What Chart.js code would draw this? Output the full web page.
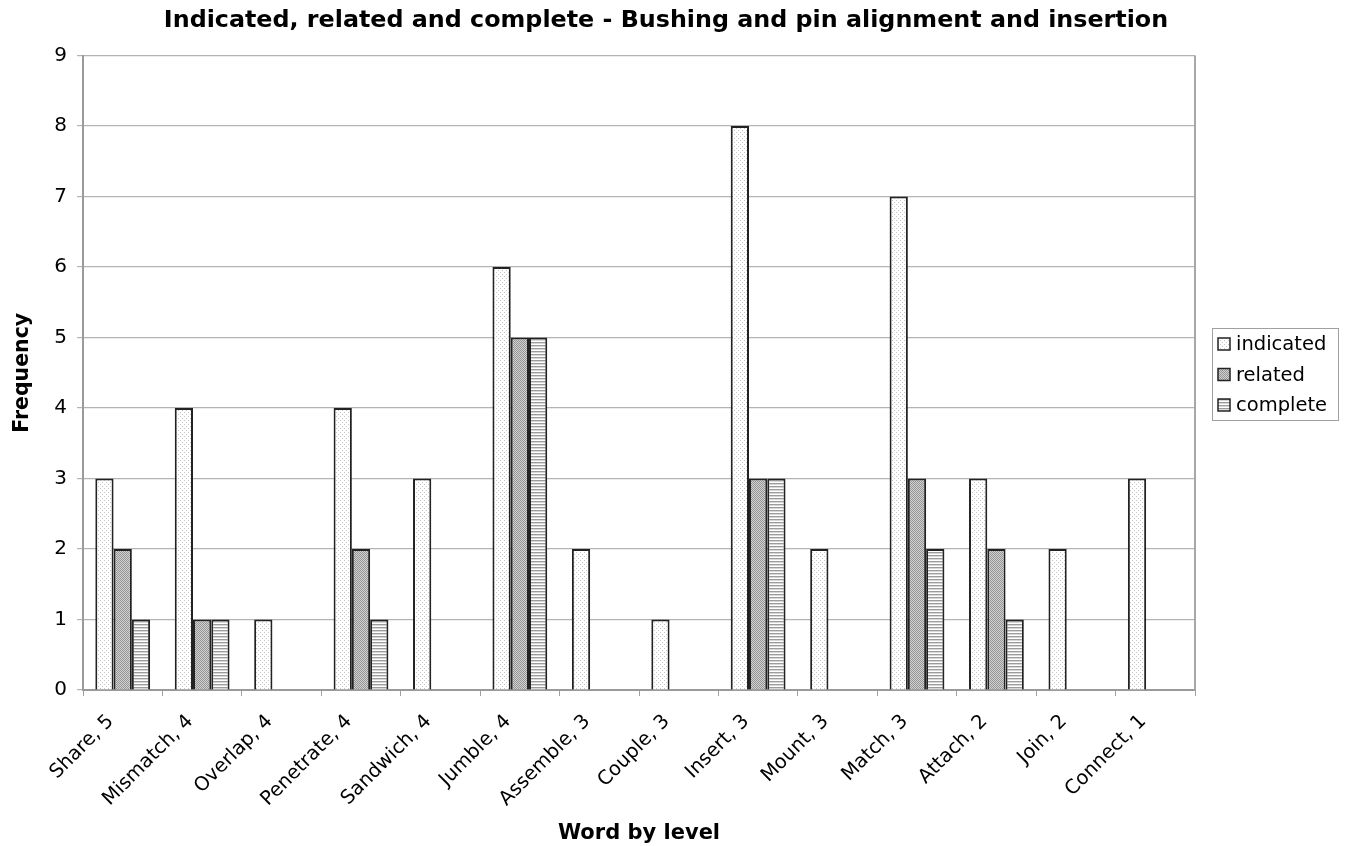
<!DOCTYPE html>
<html>
<head>
<meta charset="utf-8">
<script src="https://cdn.jsdelivr.net/npm/chart.js@4.4.1/dist/chart.umd.min.js"></script>
<style>
  html, body { margin: 0; padding: 0; background: #ffffff; }
  #wrap { width: 1346px; height: 846px; position: relative; }
</style>
</head>
<body>
<div id="wrap"><canvas id="chart" width="1346" height="846"></canvas></div>
<script>
// Words, each paired with its level
const categories = ['Share, 5', 'Mismatch, 4', 'Overlap, 4', 'Penetrate, 4', 'Sandwich, 4', 'Jumble, 4',
  'Assemble, 3', 'Couple, 3', 'Insert, 3', 'Mount, 3', 'Match, 3', 'Attach, 2', 'Join, 2', 'Connect, 1'];

const indicated = [3, 4, 1, 4, 3, 6, 2, 1, 8, 2, 7, 3, 2, 3];
const related   = [2, 1, 0, 2, 0, 5, 0, 0, 3, 0, 3, 2, 0, 0];
const complete  = [1, 1, 0, 1, 0, 5, 0, 0, 3, 0, 2, 1, 0, 0];

const seriesNames = ['indicated', 'related', 'complete'];
const yTicks = [0, 1, 2, 3, 4, 5, 6, 7, 8, 9];

const FONT = "'DejaVu Sans', Verdana, sans-serif";

// Fill patterns drawn on small tiles
function makePattern(size, paint) {
  const c = document.createElement('canvas');
  c.width = size; c.height = size;
  const g = c.getContext('2d');
  paint(g, size);
  return g.createPattern(c, 'repeat');
}
const ctx = document.getElementById('chart').getContext('2d');

// sparse light dots on white
const dotsLight = makePattern(4, (g, s) => {
  g.fillStyle = '#ffffff'; g.fillRect(0, 0, s, s);
  g.fillStyle = '#c4c4c4';
  g.fillRect(0, 0, 1, 1);
  g.fillRect(2, 2, 1, 1);
});
// dense grey dither
const dotsGrey = makePattern(2, (g, s) => {
  g.fillStyle = '#d0d0d0'; g.fillRect(0, 0, s, s);
  g.fillStyle = '#969696';
  g.fillRect(0, 0, 1, 1);
  g.fillRect(1, 1, 1, 1);
});
// horizontal stripes
const stripes = makePattern(3, (g, s) => {
  g.fillStyle = '#ffffff'; g.fillRect(0, 0, s, s);
  g.fillStyle = '#9c9c9c';
  g.fillRect(0, 0, s, 1);
  g.fillStyle = '#d8d8d8';
  g.fillRect(0, 1, s, 1);
});

const fills = [dotsLight, dotsGrey, stripes];

function ds(label, data, fill) {
  return {
    label, data,
    backgroundColor: fill,
    borderColor: '#222222',
    borderWidth: (c) => (c.raw === 0 ? 0 : 2),
    borderSkipped: 'bottom',
    categoryPercentage: 0.69,
    barPercentage: 1.0,
    yAxisID: 'y'
  };
}

// Boxed legend at the right of the plot
const boxedLegend = {
  id: 'boxedLegend',
  afterDraw(chart) {
    const c = chart.ctx;
    const x0 = 1212, y0 = 328, w = 126, h = 92;
    c.save();
    c.fillStyle = '#ffffff';
    c.fillRect(x0, y0, w, h);
    c.strokeStyle = '#a0a0a0';
    c.lineWidth = 1;
    c.strokeRect(x0 + 0.5, y0 + 0.5, w, h);
    c.font = '19.5px ' + FONT;
    c.textBaseline = 'middle';
    chart.data.datasets.forEach((d, i) => {
      const cy = y0 + 16 + i * 30.5;
      c.fillStyle = d.backgroundColor;
      c.fillRect(x0 + 6, cy - 6, 12, 12);
      c.strokeStyle = '#222222';
      c.lineWidth = 1.5;
      c.strokeRect(x0 + 6, cy - 6, 12, 12);
      c.fillStyle = '#000000';
      c.fillText(d.label, x0 + 24, cy + 1);
    });
    c.restore();
  }
};

// Grey frame on the right side of the plot
const plotFrame = {
  id: 'plotFrame',
  afterDatasetsDraw(chart) {
    const a = chart.chartArea;
    const c = chart.ctx;
    c.save();
    c.strokeStyle = '#a8a8a8';
    c.lineWidth = 2;
    c.beginPath();
    c.moveTo(a.right, a.top);
    c.lineTo(a.right, a.bottom);
    c.stroke();
    c.restore();
  }
};

new Chart(ctx, {
  type: 'bar',
  data: {
    labels: categories,
    datasets: [
      ds(seriesNames[0], indicated, fills[0]),
      ds(seriesNames[1], related, fills[1]),
      ds(seriesNames[2], complete, fills[2])
    ]
  },
  plugins: [boxedLegend, plotFrame],
  options: {
    responsive: false,
    animation: false,
    layout: { padding: { left: 0, right: 14, top: 0, bottom: 0 } },
    plugins: {
      legend: { display: false },
      tooltip: { enabled: false },
      title: {
        display: true,
        text: 'Indicated, related and complete - Bushing and pin alignment and insertion',
        color: '#000000',
        font: { family: FONT, size: 23.8, weight: 'bold', lineHeight: 1.2 },
        padding: { top: 7, bottom: 20 }
      }
    },
    scales: {
      x: {
        offset: true,
        grid: {
          offset: true,
          drawOnChartArea: false,
          drawTicks: true,
          tickLength: 6,
          color: '#a0a0a0',
          lineWidth: 1
        },
        border: { color: '#9a9a9a', width: 2 },
        ticks: {
          color: '#000000',
          font: { family: FONT, size: 19.5 },
          minRotation: 45,
          maxRotation: 45,
          padding: 14,
          labelOffset: -12,
          autoSkip: false
        },
        title: {
          display: true,
          text: 'Word by level',
          color: '#000000',
          font: { family: FONT, size: 21, weight: 'bold' },
          padding: { top: 0, bottom: 0 }
        },
        afterFit(scale) { scale.height = 156; }
      },
      y: {
        position: 'left',
        min: 0,
        max: 9,
        afterBuildTicks(scale) { scale.ticks = yTicks.map(v => ({ value: v })); },
        grid: {
          color: '#b4b4b4',
          lineWidth: 1.2,
          drawTicks: true,
          tickLength: 6
        },
        border: { color: '#9a9a9a', width: 2 },
        ticks: {
          color: '#000000',
          font: { family: FONT, size: 20 },
          padding: 10
        },
        title: {
          display: true,
          text: 'Frequency',
          color: '#000000',
          font: { family: FONT, size: 20.5, weight: 'bold' },
          padding: { top: 10, bottom: 10 }
        },
        afterFit(scale) { scale.width = 83; }
      },
      // empty right-hand band that holds the legend
      side: {
        position: 'right',
        display: true,
        min: 0,
        max: 9,
        grid: { display: false, drawTicks: false },
        border: { display: false },
        ticks: { display: false },
        afterFit(scale) { scale.width = 137; }
      }
    }
  }
});
</script>
</body>
</html>
